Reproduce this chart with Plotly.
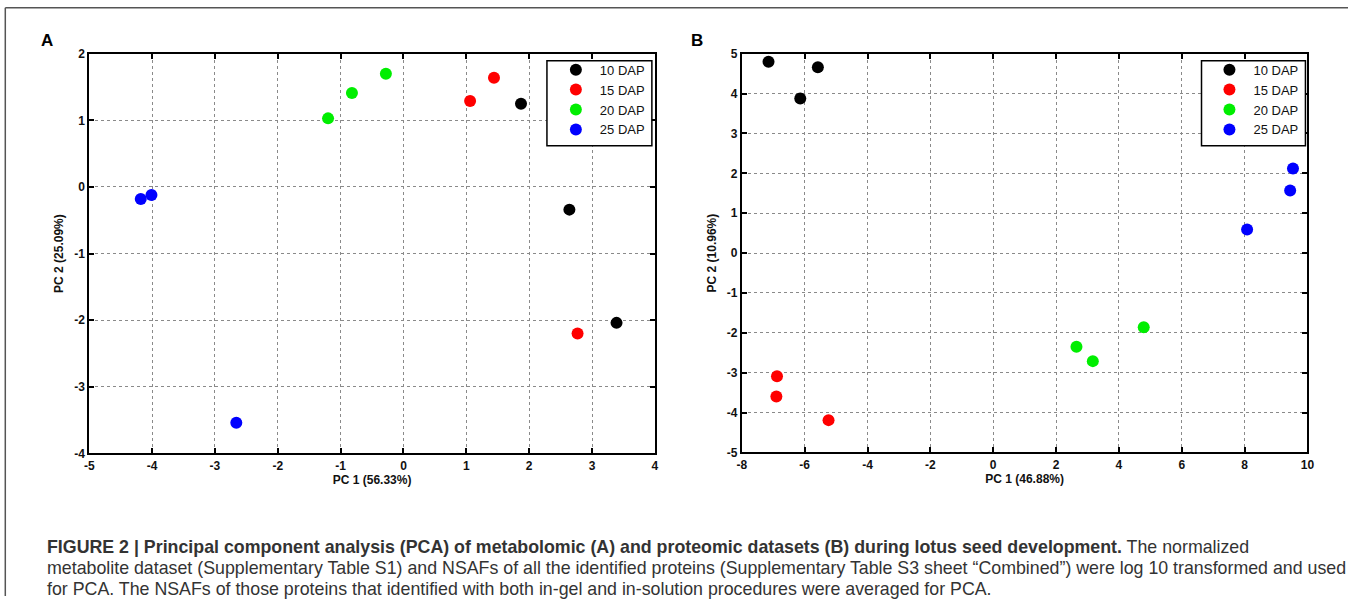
import plotly.graph_objects as go

W, H = 1355, 603

groups = ["10 DAP", "15 DAP", "20 DAP", "25 DAP"]
colors = ["#000000", "#ff0000", "#00ee00", "#0000ff"]

# Panel A: metabolomic PCA
a_x_10 = [1.87, 2.64, 3.39]
a_y_10 = [1.25, -0.34, -2.04]
a_x_15 = [1.06, 1.44, 2.77]
a_y_15 = [1.29, 1.64, -2.20]
a_x_20 = [-1.20, -0.82, -0.28]
a_y_20 = [1.03, 1.41, 1.70]
a_x_25 = [-4.18, -4.01, -2.66]
a_y_25 = [-0.18, -0.12, -3.54]

# Panel B: proteomic PCA
b_x_10 = [-7.15, -6.14, -5.58]
b_y_10 = [4.80, 3.88, 4.66]
b_x_15 = [-6.88, -6.90, -5.24]
b_y_15 = [-3.09, -3.60, -4.19]
b_x_20 = [2.65, 3.17, 4.79]
b_y_20 = [-2.35, -2.71, -1.86]
b_x_25 = [8.08, 9.45, 9.54]
b_y_25 = [0.59, 1.57, 2.12]

a_xs = [a_x_10, a_x_15, a_x_20, a_x_25]
a_ys = [a_y_10, a_y_15, a_y_20, a_y_25]
b_xs = [b_x_10, b_x_15, b_x_20, b_x_25]
b_ys = [b_y_10, b_y_15, b_y_20, b_y_25]

a_xticks = [-5, -4, -3, -2, -1, 0, 1, 2, 3, 4]
a_yticks = [-4, -3, -2, -1, 0, 1, 2]
b_xticks = [-8, -6, -4, -2, 0, 2, 4, 6, 8, 10]
b_yticks = [-5, -4, -3, -2, -1, 0, 1, 2, 3, 4, 5]

a_xtitle = "PC 1 (56.33%)"
a_ytitle = "PC 2 (25.09%)"
b_xtitle = "PC 1 (46.88%)"
b_ytitle = "PC 2 (10.96%)"

caption_lines = [
    "<b>FIGURE 2 | Principal component analysis (PCA) of metabolomic (A) and proteomic datasets (B) during lotus seed development.</b> The normalized",
    "metabolite dataset (Supplementary Table S1) and NSAFs of all the identified proteins (Supplementary Table S3 sheet \u201cCombined\u201d) were log 10 transformed and used",
    "for PCA. The NSAFs of those proteins that identified with both in-gel and in-solution procedures were averaged for PCA.",
]

FONT = "Arial, Liberation Sans, sans-serif"

fig = go.Figure()
for g, c, xs, ys in zip(groups, colors, a_xs, a_ys):
    fig.add_trace(go.Scatter(x=xs, y=ys, mode="markers", name=g,
                             marker=dict(color=c, size=12, line=dict(width=0)),
                             xaxis="x", yaxis="y", legend="legend"))
for g, c, xs, ys in zip(groups, colors, b_xs, b_ys):
    fig.add_trace(go.Scatter(x=xs, y=ys, mode="markers", name=g,
                             marker=dict(color=c, size=12, line=dict(width=0)),
                             xaxis="x2", yaxis="y2", legend="legend2"))

# calibration from target-picture pixels to page pixels (measured)
SX, OX = 0.9918, 4.7
SY, OY = 0.9776, 6.2


def px_x(p):
    return ((p - OX) / SX) / W


def px_y(p):
    return 1 - ((p - OY) / SY) / H


axis_common = dict(
    showline=True, linecolor="black", linewidth=2, mirror="ticks",
    ticks="inside", ticklen=5, tickwidth=1.5, tickcolor="black",
    showgrid=True, gridcolor="#8a8a8a", gridwidth=1, griddash="dot",
    zeroline=False,
    tickfont=dict(family=FONT, size=12, color="#111", weight="bold"),
    title_font=dict(family=FONT, size=12, color="#111", weight="bold"),
)


def labels(vals):
    return [str(v) for v in vals]


legend_common = dict(xanchor="right", yanchor="top", bgcolor="rgba(0,0,0,0)",
                     borderwidth=0, itemwidth=38, tracegroupgap=0,
                     font=dict(family=FONT, size=13, color="#111"))

fig.update_layout(
    width=W, height=H,
    margin=dict(l=0, r=0, t=0, b=0),
    paper_bgcolor="white", plot_bgcolor="white",
    font=dict(family=FONT, color="#111"),
    xaxis=dict(domain=[px_x(89), px_x(655)], range=[-5, 4],
               tickvals=a_xticks, ticktext=labels(a_xticks),
               title=dict(text=a_xtitle, standoff=4), anchor="y", **axis_common),
    yaxis=dict(domain=[px_y(453), px_y(53)], range=[-4, 2],
               tickvals=a_yticks, ticktext=labels(a_yticks),
               title=dict(text=a_ytitle, standoff=8), anchor="x", **axis_common),
    xaxis2=dict(domain=[px_x(742), px_x(1308)], range=[-8, 10],
                tickvals=b_xticks, ticktext=labels(b_xticks),
                title=dict(text=b_xtitle, standoff=4), anchor="y2", **axis_common),
    yaxis2=dict(domain=[px_y(452), px_y(53)], range=[-5, 5],
                tickvals=b_yticks, ticktext=labels(b_yticks),
                title=dict(text=b_ytitle, standoff=8), anchor="x2", **axis_common),
    legend=dict(x=px_x(650), y=px_y(54), **legend_common),
    legend2=dict(x=px_x(1304), y=px_y(54), **legend_common),
    showlegend=True,
)

# Legend frames (white boxes with black border)
for x0, x1 in ((547, 652), (1202, 1306)):
    fig.add_shape(type="rect", xref="paper", yref="paper", layer="above",
                  x0=px_x(x0), x1=px_x(x1), y0=px_y(145), y1=px_y(60),
                  fillcolor="white", line=dict(color="black", width=1.5))

# Panel letters
for letter, lx in (("A", 47), ("B", 697)):
    fig.add_annotation(text="<b>" + letter + "</b>", x=px_x(lx), y=px_y(40),
                       xref="paper", yref="paper", xanchor="center", yanchor="middle",
                       showarrow=False, font=dict(family=FONT, size=17, color="black"))

# Caption
for i, line in enumerate(caption_lines):
    fig.add_annotation(text=line, x=px_x(45), y=px_y(547 + 21 * i), xref="paper", yref="paper",
                       xanchor="left", yanchor="middle", align="left", showarrow=False,
                       font=dict(family=FONT, size=17.8, color="#333"))

# Outer frame (top and left edges)
fig.add_shape(type="line", xref="paper", yref="paper", x0=px_x(5), x1=1, y0=px_y(7), y1=px_y(7),
              line=dict(color="#555", width=1.5))
fig.add_shape(type="line", xref="paper", yref="paper", x0=px_x(5), x1=px_x(5), y0=px_y(7), y1=0,
              line=dict(color="#555", width=1.5))

fig.write_html("out.html", config={"displayModeBar": False},
               post_script="document.body.style.margin='0';document.body.style.overflow='hidden';")
